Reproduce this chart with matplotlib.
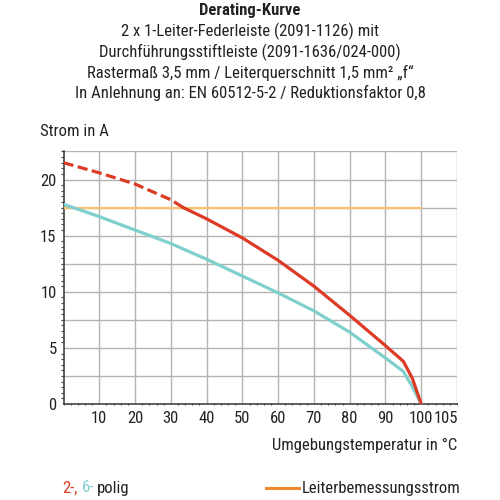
import matplotlib
matplotlib.use('Agg')
import matplotlib.pyplot as plt
import matplotlib.ticker as mticker

plt.rcParams['font.family'] = ['Roboto Condensed', 'Roboto', 'DejaVu Sans']

# ── DATA ─────────────────────────────────────────────────────────────
title_lines = [
    "2 x 1-Leiter-Federleiste (2091-1126) mit",
    "Durchführungsstiftleiste (2091-1636/024-000)",
    "Rastermaß 3,5 mm / Leiterquerschnitt 1,5 mm² „f“",
    "In Anlehnung an: EN 60512-5-2 / Reduktionsfaktor 0,8",
]

red_dash_x = [0, 10, 20, 30, 33.5]
red_dash_y = [21.5, 20.6, 19.6, 18.2, 17.5]
red_x = [33.5, 40, 50, 60, 70, 80, 90, 95, 97.5, 100]
red_y = [17.5, 16.5, 14.8, 12.8, 10.5, 7.9, 5.2, 3.8, 2.3, 0]

teal_x = [0, 10, 20, 30, 40, 50, 60, 70, 80, 90, 95, 97.5, 100]
teal_y = [17.8, 16.7, 15.5, 14.3, 12.9, 11.4, 9.9, 8.3, 6.4, 4.1, 2.9, 1.55, 0]

rated_x = [0, 100]
rated_y = [17.5, 17.5]

xtick_vals = [10, 20, 30, 40, 50, 60, 70, 80, 90, 100]
ytick_vals = [0, 5, 10, 15, 20]

RED = '#dd3b26'
TEAL = '#7fd0cc'
YEL = '#f6c46e'
ORG = '#ef8a2e'
INK = '#222222'
FS = 12

# ── FIGURE ───────────────────────────────────────────────────────────
fig = plt.figure(figsize=(5, 5), dpi=100, facecolor='white')
ax = fig.add_axes([0.127, 0.192, 0.787, 0.505])

ax.plot(rated_x, rated_y, color=YEL, lw=1.6, zorder=3)
ax.plot(teal_x, teal_y, color=TEAL, lw=2.3, zorder=4, solid_joinstyle='round')
ax.plot(red_dash_x, red_dash_y, color=RED, lw=2.3, ls=(0, (3.2, 1.4)), zorder=5)
ax.plot(red_x, red_y, color=RED, lw=2.3, zorder=5, solid_joinstyle='round')

ax.set_xlim(0, 110)
ax.set_ylim(0, 22.5)

# grid
for xv in range(10, 111, 10):
    ax.axvline(xv, color='#b3b3b3', lw=1.0, zorder=1)
for yv in [2.5 * i for i in range(1, 10)]:
    ax.axhline(yv, color='#b3b3b3', lw=1.0, zorder=1)

ax.xaxis.set_major_locator(mticker.FixedLocator(xtick_vals + [106.8]))
ax.set_xticklabels([str(v) for v in xtick_vals] + ['105'])
ax.yaxis.set_major_locator(mticker.FixedLocator(ytick_vals))
ax.xaxis.set_minor_locator(mticker.MultipleLocator(2))
ax.yaxis.set_minor_locator(mticker.MultipleLocator(0.5))
ax.tick_params(axis='both', which='major', length=0, labelsize=FS, colors=INK)
ax.tick_params(axis='x', which='major', pad=5)
ax.tick_params(axis='y', which='major', pad=5)
ax.tick_params(axis='both', which='minor', length=2, width=0.8, color='#444444')
ax.tick_params(axis='x', which='minor', direction='inout')

for s in ['top', 'right']:
    ax.spines[s].set_visible(False)
for s in ['left', 'bottom']:
    ax.spines[s].set_color('#444444')
    ax.spines[s].set_linewidth(1.2)

# ── TEXT ─────────────────────────────────────────────────────────────
fig.text(0.5, 0.978, "Derating-Kurve", ha='center', va='center',
         fontsize=FS, fontweight='bold', color=INK)
for i, line in enumerate(title_lines):
    fig.text(0.5, 0.937 - i * 0.0413, line, ha='center', va='center',
             fontsize=FS, color=INK)

fig.text(0.08, 0.736, "Strom in A", ha='left', va='center', fontsize=FS, color=INK)
fig.text(0.914, 0.11, "Umgebungstemperatur in °C", ha='right', va='center',
         fontsize=FS, color=INK)

# legend
t1 = fig.text(0.124, 0.024, "2-,", ha='left', va='center', fontsize=FS, color=RED)
t2 = ax.annotate("6-", xy=(1, 0), xycoords=t1, xytext=(3, 0), textcoords='offset points',
                 ha='left', va='bottom', fontsize=FS, color=TEAL)
ax.annotate("polig", xy=(1, 0), xycoords=t2, xytext=(2, 0), textcoords='offset points',
            ha='left', va='bottom', fontsize=FS, color=INK)
fig.add_artist(plt.Line2D([0.532, 0.597], [0.024, 0.024], color=ORG, lw=2.2,
                          transform=fig.transFigure))
fig.text(0.604, 0.024, "Leiterbemessungsstrom", ha='left', va='center',
         fontsize=FS, color=INK)

fig.savefig('out.png', dpi=100, facecolor='white')
